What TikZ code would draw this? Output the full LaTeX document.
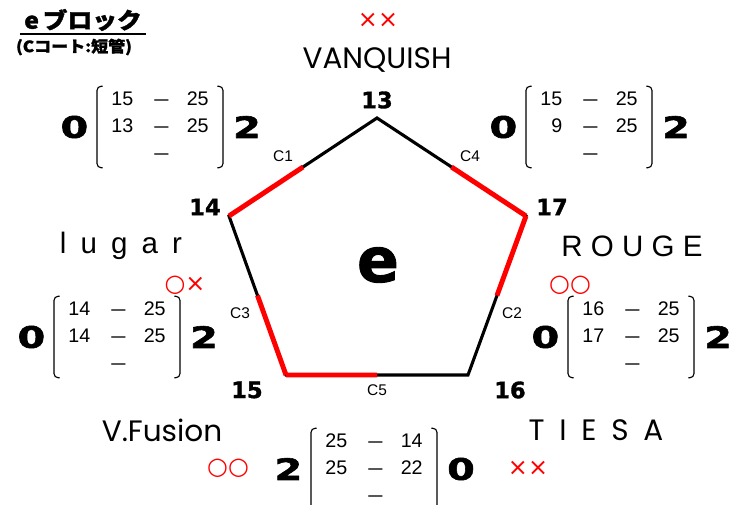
\documentclass[tikz,border=0pt]{standalone}
\usepackage{fontspec}
\setmainfont{Liberation Sans}
\newfontfamily\geofont{Poppins}
\newfontfamily\geospaced[LetterSpace=50]{Poppins}
\newfontfamily\heavyfont[FakeBold=1.5]{DejaVu Sans Bold}
\newfontfamily\heavywide[FakeBold=2,FakeStretch=1.35]{DejaVu Sans Bold}
\newfontfamily\spacedfont[LetterSpace=20]{Liberation Sans}
\newfontfamily\widefont[LetterSpace=28]{Liberation Sans}
\newfontfamily\symfont{DejaVu Sans}
\newfontfamily\jpfont[FakeStretch=1.1,FakeBold=1.5]{Noto Sans CJK JP}
\usepackage{tikz}
\usetikzlibrary{positioning,calc}
\newcommand{\sdash}{\scalebox{0.72}[1]{—}}

\begin{document}
\begin{tikzpicture}[x=0.025cm, y=-0.025cm]
  \definecolor{markred}{HTML}{FF0000}

  \tikzstyle{teamname} = [font=\geofont\fontsize{21}{21}\selectfont, inner sep=0pt]
  \tikzstyle{spacedname} = [font=\spacedfont\fontsize{21}{21}\selectfont, inner sep=0pt]
  \tikzstyle{vertexlabel} = [font=\heavyfont\fontsize{16}{16}\selectfont, inner sep=0pt]
  \tikzstyle{courtlabel} = [font=\fontsize{11}{11}\selectfont, inner sep=0pt]
  \tikzstyle{scoretable} = [font=\fontsize{14}{19.2}\selectfont, inner xsep=10pt,
    inner ysep=0pt]
  \tikzstyle{bigscore} = [font=\heavywide\fontsize{21}{21}\selectfont, inner sep=0pt]
  \tikzstyle{resultmark} = [font=\symfont\fontsize{17}{17}\selectfont, text=markred, inner sep=0pt]
  \tikzstyle{edgeline} = [line width=2.2pt]
  \tikzstyle{winhalf} = [line width=3.5pt, draw=markred]
  \tikzstyle{bracket} = [line width=0.8pt, rounded corners=3pt]

  \useasboundingbox (0,0) rectangle (736,505);

  % Heading
  \node[font=\jpfont\bfseries\fontsize{16}{16}\selectfont, inner xsep=0pt, inner ysep=2pt]
    (title) at (83,20) {e\,ブロック};
  \draw[line width=1pt] ([xshift=-3pt]title.south west) -- ([xshift=3pt]title.south east);
  \node[font=\jpfont\bfseries\fontsize{11}{11}\selectfont, inner sep=0pt]
    (subtitle) at (74,47) {(Cコート:短管)};

  % Pentagon corners
  \coordinate (v13) at (377,118);
  \coordinate (v14) at (229,216);
  \coordinate (v17) at (526,216);
  \coordinate (v15) at (286,375);
  \coordinate (v16) at (468,375);

  \draw[edgeline] (v13) -- (v14) -- (v15) -- (v16) -- (v17) -- cycle;
  % winner halves
  \draw[winhalf] (v14) -- ($(v14)!0.5!(v13)$);
  \draw[winhalf] (v17) -- ($(v17)!0.5!(v13)$);
  \draw[winhalf] (v17) -- ($(v17)!0.5!(v16)$);
  \draw[winhalf] (v15) -- ($(v15)!0.5!(v14)$);
  \draw[winhalf] (v15) -- ($(v15)!0.5!(v16)$);

  \node[font=\heavyfont\fontsize{44}{44}\selectfont, inner sep=0pt] (blockname) at (378,265) {e};

  % Team numbers
  \node[vertexlabel] (lab13) at (377,100) {13};
  \node[vertexlabel] (lab14) at (205,207) {14};
  \node[vertexlabel] (lab17) at (552,207) {17};
  \node[vertexlabel] (lab15) at (247,390) {15};
  \node[vertexlabel] (lab16) at (510,390) {16};

  % Court labels
  \node[courtlabel] (c1) at (283,156) {C1};
  \node[courtlabel] (c4) at (470,156) {C4};
  \node[courtlabel] (c3) at (240,313) {C3};
  \node[courtlabel] (c2) at (512,313) {C2};
  \node[courtlabel] (c5) at (377,390) {C5};

  % Team names
  \node[teamname] (vanquish) at (377,60) {VANQUISH};
  \node[spacedname] (lugar) at (121,246) {l u g a r};
  \node[font=\widefont\fontsize{21}{21}\selectfont, inner sep=0pt] (rouge) at (632,246) {ROUGE};
  \node[teamname] (vfusion) at (162,430) {V.Fusion};
  \node[font=\geospaced\fontsize{21}{21}\selectfont, inner sep=0pt] (tiesa) at (596,430) {TIESA};

  % Results
  \node[resultmark] (markV) at (378,20) {××};
  \node[resultmark] (markL) at (185,285) {○×};
  \node[resultmark] (markR) at (570,285) {○○};
  \node[resultmark] (markF) at (228,468) {○○};
  \node[resultmark] (markT) at (528,468) {××};

  % Set scores
  \node[scoretable] (blockC1) at (160,127)
    {\begin{tabular}{@{}r@{\hspace{15pt}}c@{\hspace{13pt}}r@{}}
      15 & \sdash & 25\\ 13 & \sdash & 25\\ & \sdash & \end{tabular}};
  \node[scoretable] (blockC4) at (589,127)
    {\begin{tabular}{@{}r@{\hspace{15pt}}c@{\hspace{13pt}}r@{}}
      15 & \sdash & 25\\ 9 & \sdash & 25\\ & \sdash & \end{tabular}};
  \node[scoretable] (blockC3) at (117,337)
    {\begin{tabular}{@{}r@{\hspace{15pt}}c@{\hspace{13pt}}r@{}}
      14 & \sdash & 25\\ 14 & \sdash & 25\\ & \sdash & \end{tabular}};
  \node[scoretable] (blockC2) at (631,337)
    {\begin{tabular}{@{}r@{\hspace{15pt}}c@{\hspace{13pt}}r@{}}
      16 & \sdash & 25\\ 17 & \sdash & 25\\ & \sdash & \end{tabular}};
  \node[scoretable] (blockC5) at (374,469)
    {\begin{tabular}{@{}r@{\hspace{15pt}}c@{\hspace{13pt}}r@{}}
      25 & \sdash & 14\\ 25 & \sdash & 22\\ & \sdash & \end{tabular}};

  \foreach \blk in {blockC1,blockC4,blockC3,blockC2,blockC5} {
    \draw[bracket] ([xshift=4pt]\blk.north west) -- (\blk.north west)
      -- (\blk.south west) -- ([xshift=4pt]\blk.south west);
    \draw[bracket] ([xshift=-4pt]\blk.north east) -- (\blk.north east)
      -- (\blk.south east) -- ([xshift=-4pt]\blk.south east);
  }

  \node[bigscore, left=6pt of blockC1] (setL1) {0};
  \node[bigscore, right=7pt of blockC1] (setR1) {2};
  \node[bigscore, left=6pt of blockC4] (setL4) {0};
  \node[bigscore, right=7pt of blockC4] (setR4) {2};
  \node[bigscore, left=6pt of blockC3] (setL3) {0};
  \node[bigscore, right=7pt of blockC3] (setR3) {2};
  \node[bigscore, left=6pt of blockC2] (setL2) {0};
  \node[bigscore, right=7pt of blockC2] (setR2) {2};
  \node[bigscore, left=6pt of blockC5] (setL5) {2};
  \node[bigscore, right=7pt of blockC5] (setR5) {0};
\end{tikzpicture}
\end{document}
